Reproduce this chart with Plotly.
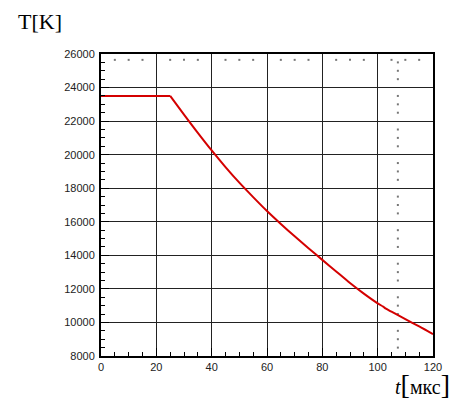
import plotly.graph_objects as go

# Data
t_flat = [0, 25]
T_flat = [23500, 23500]
t_vals = [25, 30, 35, 40, 45, 50, 55, 60, 65, 70, 75, 80, 85, 90, 95, 100, 102, 103, 105, 110, 115, 120]
T_vals = [23500, 22390, 21300, 20250, 19260, 18330, 17470, 16640, 15870, 15130, 14420, 13730,
          13040, 12350, 11720, 11140, 10940, 10820, 10640, 10200, 9760, 9300]

x_ticks = [0, 20, 40, 60, 80, 100, 120]
y_ticks = [8000, 10000, 12000, 14000, 16000, 18000, 20000, 22000, 24000, 26000]

# dotted marks inside the frame
top_dot_x = [5, 10, 15, 25, 30, 35, 45, 50, 55, 65, 70, 75, 85, 90, 95, 105, 110, 115]
top_dot_y = 25650
vdot_x = 107.3
vdot_y = [v for v in range(8500, 26000, 500) if v % 2000 != 0]

fig = go.Figure()
fig.add_trace(go.Scatter(x=top_dot_x, y=[top_dot_y] * len(top_dot_x), mode="markers",
                         marker=dict(symbol="square", size=2, color="#777"), hoverinfo="skip"))
fig.add_trace(go.Scatter(x=[vdot_x] * len(vdot_y), y=vdot_y, mode="markers",
                         marker=dict(symbol="square", size=2, color="#777"), hoverinfo="skip"))
fig.add_trace(go.Scatter(x=t_flat, y=T_flat, mode="lines",
                         line=dict(color="#d40000", width=2)))
fig.add_trace(go.Scatter(x=t_vals, y=T_vals, mode="lines",
                         line=dict(color="#d40000", width=2, shape="spline", smoothing=0.8)))

axis_common = dict(
    showgrid=True, gridcolor="#222", gridwidth=1,
    showline=True, linecolor="black", linewidth=2, mirror=True,
    ticks="inside", ticklen=8, tickcolor="black", tickwidth=1,
    zeroline=False,
    tickfont=dict(family="Liberation Sans, Arial", size=11, color="#222"),
)

fig.update_xaxes(range=[0, 120], tickvals=x_ticks, ticktext=[str(v) for v in x_ticks],
                 minor=dict(dtick=5, ticks="inside", ticklen=4, tickcolor="black", showgrid=False),
                 ticklabelstandoff=0, **axis_common)
fig.update_yaxes(range=[8000, 26000], tickvals=y_ticks, ticktext=[str(v) for v in y_ticks],
                 minor=dict(dtick=500, ticks="inside", ticklen=4, tickcolor="black", showgrid=False),
                 ticklabelstandoff=2, **axis_common)

fig.add_annotation(text="T[K]", xref="paper", yref="paper", x=-0.256, y=1.106,
                   xanchor="left", yanchor="middle", showarrow=False,
                   font=dict(family="Liberation Serif, Times New Roman", size=22, color="black"))
fig.add_annotation(text="<i>t</i><span style='font-size:28px'>[</span>мкс<span style='font-size:28px'>]</span>",
                   xref="paper", yref="paper", x=1.057, y=-0.096,
                   xanchor="right", yanchor="middle", showarrow=False,
                   font=dict(family="Liberation Serif, Times New Roman", size=20, color="black"))

fig.update_layout(
    width=459, height=406,
    margin=dict(l=101, r=26, t=54, b=50),
    paper_bgcolor="white", plot_bgcolor="white",
    showlegend=False,
)

fig.write_html("out.html", config={"displayModeBar": False},
               post_script="document.body.style.margin='0px';")
